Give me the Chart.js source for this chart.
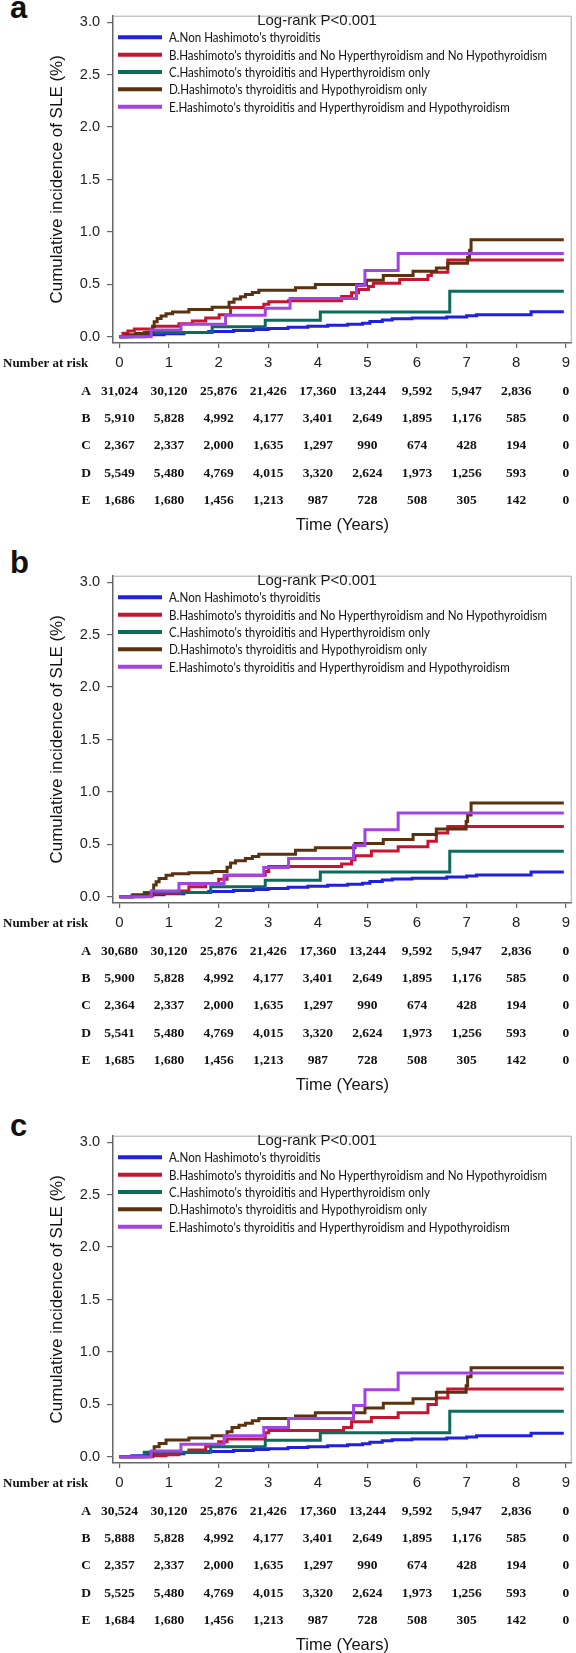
<!DOCTYPE html>
<html>
<head>
<meta charset="utf-8">
<script src="https://cdn.jsdelivr.net/npm/chart.js@4.4.1/dist/chart.umd.min.js"></script>
<style>
  html, body { margin: 0; padding: 0; background: #fff; overflow: hidden; }
  body { width: 576px; height: 1653px; position: relative; }
  canvas { position: absolute; left: 0; }
  .tag { position: absolute; left: 10px; font: bold 31px "Liberation Sans", Arial, sans-serif; line-height: 31px; color: #111; }
</style>
</head>
<body>
<div class="tag" style="top:-8px">a</div>
<div class="tag" style="top:547px">b</div>
<div class="tag" style="top:1110px">c</div>
<canvas id="panelA" width="576" height="545" style="top:0px"></canvas>
<canvas id="panelB" width="576" height="545" style="top:560px"></canvas>
<canvas id="panelC" width="576" height="545" style="top:1120px"></canvas>
<script>
// group labels
const GROUP_KEYS = ["A", "B", "C", "D", "E"];
const GROUP_NAMES = [
  "A.Non Hashimoto's thyroiditis",
  "B.Hashimoto's thyroiditis and No Hyperthyroidism and No Hypothyroidism",
  "C.Hashimoto's thyroiditis and Hyperthyroidism only",
  "D.Hashimoto's thyroiditis and Hypothyroidism only",
  "E.Hashimoto's thyroiditis and Hyperthyroidism and Hypothyroidism"
];
const GROUP_COLORS = ["#2020e0", "#c8152f", "#0d6b5c", "#5a3210", "#a244e4"];
const X_TICKS = [0, 1, 2, 3, 4, 5, 6, 7, 8, 9];
const Y_TICKS = [0, 0.5, 1.0, 1.5, 2.0, 2.5, 3.0];
const LOGRANK = "Log-rank P<0.001";

// panel a: [years, cumulative incidence %]
const A_GROUP_A = [[0,0],[0.25,0.01],[0.55,0.02],[0.9,0.03],[1.3,0.04],[1.8,0.05],[2.3,0.06],[2.7,0.07],[3.0,0.08],[3.4,0.09],[3.8,0.1],[4.2,0.11],[4.6,0.12],[4.9,0.13],[5.05,0.145],[5.3,0.16],[5.5,0.172],[5.9,0.18],[6.6,0.19],[7.0,0.2],[7.2,0.21],[8.3,0.24],[8.96,0.24]];
const A_GROUP_B = [[0,0],[0.07,0.035],[0.17,0.055],[0.3,0.075],[0.67,0.1],[1.2,0.125],[1.47,0.15],[1.74,0.18],[2.01,0.21],[2.24,0.28],[2.91,0.31],[3.01,0.335],[3.41,0.345],[4.48,0.385],[4.68,0.42],[4.82,0.45],[5.02,0.48],[5.12,0.51],[5.65,0.547],[6.22,0.584],[6.29,0.615],[6.62,0.733],[8.96,0.733]];
const A_GROUP_C = [[0,0],[0.5,0.04],[1.87,0.096],[2.94,0.158],[4.05,0.236],[6.66,0.435],[8.96,0.435]];
const A_GROUP_D = [[0,0],[0.13,0.019],[0.33,0.031],[0.54,0.043],[0.67,0.096],[0.7,0.143],[0.76,0.174],[0.84,0.199],[0.94,0.22],[1.07,0.236],[1.4,0.261],[1.87,0.283],[2.21,0.329],[2.31,0.36],[2.44,0.382],[2.54,0.404],[2.68,0.422],[2.81,0.444],[3.55,0.469],[3.95,0.5],[4.98,0.54],[5.32,0.584],[5.92,0.624],[6.39,0.655],[6.62,0.702],[7.02,0.758],[7.06,0.826],[7.09,0.925],[8.96,0.925]];
const A_GROUP_E = [[0,0],[0.64,0.065],[1.24,0.12],[2.14,0.205],[2.94,0.273],[3.44,0.366],[4.78,0.49],[4.95,0.633],[5.62,0.795],[8.96,0.795]];

// panel b
const B_GROUP_A = [[0,0],[0.25,0.01],[0.55,0.02],[0.9,0.03],[1.3,0.04],[1.8,0.05],[2.3,0.06],[2.7,0.07],[3.0,0.08],[3.4,0.09],[3.8,0.1],[4.2,0.11],[4.6,0.12],[4.9,0.13],[5.05,0.145],[5.3,0.16],[5.5,0.17],[5.9,0.178],[6.6,0.188],[7.0,0.198],[7.2,0.208],[8.3,0.236],[8.96,0.236]];
const B_GROUP_B = [[0,0],[0.27,0.01],[0.67,0.034],[1.2,0.056],[1.4,0.096],[1.74,0.127],[2.0,0.168],[2.17,0.205],[2.94,0.242],[3.01,0.289],[4.48,0.314],[4.68,0.354],[4.75,0.391],[5.08,0.438],[5.62,0.478],[6.22,0.531],[6.39,0.609],[6.62,0.671],[8.96,0.671]];
const B_GROUP_C = [[0,0],[0.5,0.04],[1.84,0.096],[2.94,0.158],[4.05,0.236],[6.66,0.435],[8.96,0.435]];
const B_GROUP_D = [[0,0],[0.27,0.019],[0.54,0.031],[0.66,0.056],[0.69,0.112],[0.74,0.143],[0.8,0.174],[0.94,0.205],[1.07,0.22],[1.4,0.23],[1.87,0.242],[2.17,0.283],[2.24,0.323],[2.34,0.345],[2.54,0.366],[2.68,0.385],[2.81,0.407],[3.55,0.444],[3.95,0.469],[4.75,0.509],[5.32,0.547],[5.92,0.593],[6.39,0.646],[6.99,0.717],[7.02,0.779],[7.09,0.894],[8.96,0.894]];
const B_GROUP_E = [[0,0],[0.64,0.056],[1.2,0.127],[2.11,0.205],[2.91,0.28],[3.41,0.366],[4.72,0.49],[4.95,0.64],[5.62,0.8],[8.96,0.8]];

// panel c
const C_GROUP_A = [[0,0],[0.25,0.01],[0.55,0.02],[0.9,0.03],[1.3,0.04],[1.8,0.05],[2.3,0.06],[2.7,0.07],[3.0,0.078],[3.4,0.088],[3.8,0.097],[4.2,0.106],[4.6,0.115],[4.9,0.125],[5.05,0.138],[5.3,0.152],[5.5,0.163],[5.9,0.17],[6.6,0.18],[7.0,0.19],[7.2,0.2],[8.3,0.225],[8.96,0.225]];
const C_GROUP_B = [[0,0],[0.67,0.01],[0.94,0.02],[1.2,0.04],[1.4,0.065],[1.74,0.1],[2.0,0.143],[2.17,0.17],[2.94,0.23],[3.01,0.25],[4.52,0.28],[4.68,0.335],[5.08,0.376],[5.62,0.42],[6.22,0.5],[6.39,0.56],[6.62,0.646],[8.96,0.646]];
const C_GROUP_C = [[0,0],[0.5,0.043],[1.84,0.096],[2.94,0.158],[4.05,0.23],[6.66,0.435],[8.96,0.435]];
const C_GROUP_D = [[0,0],[0.6,0.01],[0.67,0.05],[0.7,0.096],[0.8,0.127],[0.94,0.16],[1.4,0.18],[1.87,0.2],[2.17,0.24],[2.27,0.28],[2.41,0.3],[2.54,0.32],[2.68,0.345],[2.81,0.366],[3.55,0.39],[3.95,0.42],[4.95,0.465],[5.32,0.51],[5.92,0.553],[6.39,0.615],[6.99,0.677],[7.02,0.764],[7.09,0.85],[8.96,0.85]];
const C_GROUP_E = [[0,0],[0.64,0.056],[1.24,0.12],[2.11,0.2],[2.91,0.28],[3.41,0.366],[4.72,0.49],[4.95,0.64],[5.62,0.8],[8.96,0.8]];

// number at risk, one value per x tick
const A_RISK_A = [31024, 30120, 25876, 21426, 17360, 13244, 9592, 5947, 2836, 0];
const A_RISK_B = [5910, 5828, 4992, 4177, 3401, 2649, 1895, 1176, 585, 0];
const A_RISK_C = [2367, 2337, 2000, 1635, 1297, 990, 674, 428, 194, 0];
const A_RISK_D = [5549, 5480, 4769, 4015, 3320, 2624, 1973, 1256, 593, 0];
const A_RISK_E = [1686, 1680, 1456, 1213, 987, 728, 508, 305, 142, 0];

const B_RISK_A = [30680, 30120, 25876, 21426, 17360, 13244, 9592, 5947, 2836, 0];
const B_RISK_B = [5900, 5828, 4992, 4177, 3401, 2649, 1895, 1176, 585, 0];
const B_RISK_C = [2364, 2337, 2000, 1635, 1297, 990, 674, 428, 194, 0];
const B_RISK_D = [5541, 5480, 4769, 4015, 3320, 2624, 1973, 1256, 593, 0];
const B_RISK_E = [1685, 1680, 1456, 1213, 987, 728, 508, 305, 142, 0];

const C_RISK_A = [30524, 30120, 25876, 21426, 17360, 13244, 9592, 5947, 2836, 0];
const C_RISK_B = [5888, 5828, 4992, 4177, 3401, 2649, 1895, 1176, 585, 0];
const C_RISK_C = [2357, 2337, 2000, 1635, 1297, 990, 674, 428, 194, 0];
const C_RISK_D = [5525, 5480, 4769, 4015, 3320, 2624, 1973, 1256, 593, 0];
const C_RISK_E = [1684, 1680, 1456, 1213, 987, 728, 508, 305, 142, 0];

const SANS = '"Liberation Sans", Arial, sans-serif';
const SERIF = '"Liberation Serif", "Times New Roman", serif';
const LEGEND_FONT = 'Lato, "Liberation Sans", sans-serif';

// frame, in-plot legend and the number-at-risk table
const extrasPlugin = {
  id: 'kmExtras',
  afterDraw(chart, args, opts) {
    const { ctx, chartArea: area, scales: { x } } = chart;
    ctx.save();

    // top and right sides of the box
    ctx.strokeStyle = '#aaaaaa';
    ctx.lineWidth = 1;
    ctx.beginPath();
    ctx.moveTo(area.left, area.top + 0.5);
    ctx.lineTo(area.right - 0.5, area.top + 0.5);
    ctx.lineTo(area.right - 0.5, area.bottom);
    ctx.stroke();

    // legend
    ctx.fillStyle = '#1a1a1a';
    ctx.textBaseline = 'middle';
    ctx.textAlign = 'center';
    ctx.font = '15px ' + SANS;
    ctx.fillText(LOGRANK, 317, 21);

    ctx.font = '14px ' + LEGEND_FONT;
    const squeeze = 378 / ctx.measureText(GROUP_NAMES[1]).width;
    ctx.textAlign = 'left';
    ctx.fillStyle = '#111';
    chart.data.datasets.forEach((ds, i) => {
      const y = 37.3 + i * 17.35;
      ctx.strokeStyle = ds.borderColor;
      ctx.lineWidth = 4;
      ctx.beginPath();
      ctx.moveTo(118, y);
      ctx.lineTo(162, y);
      ctx.stroke();
      ctx.save();
      ctx.translate(169, y + 0.5);
      ctx.scale(squeeze, 1);
      ctx.fillText(ds.label, 0, 0);
      ctx.restore();
    });

    // number at risk
    ctx.fillStyle = '#111';
    ctx.font = 'bold 13px ' + SERIF;
    ctx.textAlign = 'left';
    ctx.fillText('Number at risk', 3, 364);
    ctx.font = 'bold 13.5px ' + SERIF;
    ctx.textAlign = 'center';
    opts.rows.forEach((row, i) => {
      const y = 391.5 + i * 27.2;
      ctx.fillText(GROUP_KEYS[i], 86, y);
      row.forEach((n, j) => {
        ctx.fillText(n.toLocaleString('en-US'), x.getPixelForValue(X_TICKS[j]), y);
      });
    });
    ctx.restore();
  }
};

function makePanel(id, curves, risk) {
  const datasets = curves.map((pts, i) => ({
    label: GROUP_NAMES[i],
    data: pts.map(([t, v]) => ({ x: t, y: v })),
    borderColor: GROUP_COLORS[i],
    borderWidth: 3,
    stepped: 'before',
    pointRadius: 0,
    fill: false,
    order: 5 - i
  }));

  new Chart(document.getElementById(id).getContext('2d'), {
    type: 'line',
    data: { datasets },
    plugins: [extrasPlugin],
    options: {
      responsive: false,
      animation: false,
      events: [],
      layout: { autoPadding: false, padding: { left: 0, top: 9, right: 2, bottom: 0 } },
      plugins: {
        legend: { display: false },
        tooltip: { enabled: false },
        kmExtras: { rows: risk }
      },
      scales: {
        x: {
          type: 'linear',
          min: -0.13,
          max: 9.12,
          afterBuildTicks: (s) => { s.ticks = X_TICKS.map(v => ({ value: v })); },
          afterFit: (s) => { s.height = 202; },
          grid: { drawOnChartArea: false, drawTicks: true, tickLength: 5, color: '#666', lineWidth: 1.2 },
          border: { display: true, color: '#666', width: 1.5 },
          ticks: { font: { family: SANS, size: 15 }, color: '#222', padding: 6, maxRotation: 0 },
          title: {
            display: true,
            text: 'Time (Years)',
            font: { family: SANS, size: 16.5 },
            color: '#111',
            padding: { top: 0, bottom: 10 }
          }
        },
        y: {
          type: 'linear',
          min: -0.059,
          max: 3.062,
          afterBuildTicks: (s) => { s.ticks = Y_TICKS.map(v => ({ value: v })); },
          afterFit: (s) => { s.width = 113; },
          grid: { drawOnChartArea: false, drawTicks: true, tickLength: 6, color: '#666', lineWidth: 1.2 },
          border: { display: true, color: '#666', width: 1.5 },
          ticks: { font: { family: SANS, size: 14.5 }, color: '#222', padding: 7, callback: (v) => Number(v).toFixed(1) },
          title: {
            display: true,
            text: 'Cumulative incidence of SLE (%)',
            font: { family: SANS, size: 17 },
            color: '#111',
            padding: { top: 47, bottom: 0 }
          }
        }
      }
    }
  });
}

makePanel('panelA', [A_GROUP_A, A_GROUP_B, A_GROUP_C, A_GROUP_D, A_GROUP_E], [A_RISK_A, A_RISK_B, A_RISK_C, A_RISK_D, A_RISK_E]);
makePanel('panelB', [B_GROUP_A, B_GROUP_B, B_GROUP_C, B_GROUP_D, B_GROUP_E], [B_RISK_A, B_RISK_B, B_RISK_C, B_RISK_D, B_RISK_E]);
makePanel('panelC', [C_GROUP_A, C_GROUP_B, C_GROUP_C, C_GROUP_D, C_GROUP_E], [C_RISK_A, C_RISK_B, C_RISK_C, C_RISK_D, C_RISK_E]);
</script>
</body>
</html>
